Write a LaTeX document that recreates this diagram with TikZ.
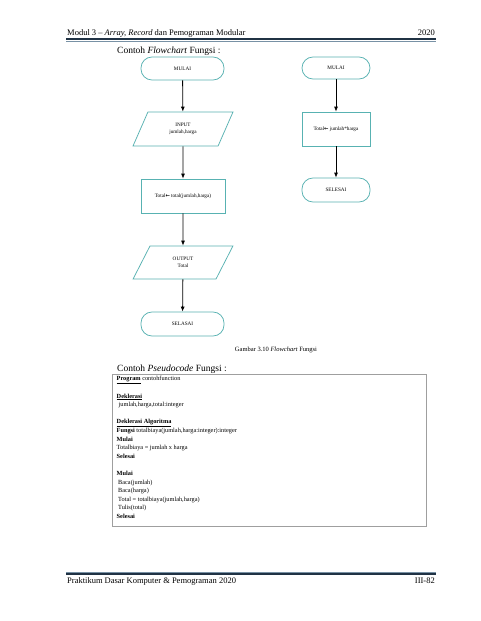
\documentclass[tikz,border=0pt]{standalone}
\usepackage{fontspec}
\setmainfont{Liberation Serif}
\newfontfamily\dejavu{DejaVu Sans}
\usetikzlibrary{shapes.geometric,arrows.meta}
\definecolor{tealb}{RGB}{88,178,178}
\definecolor{hdr}{RGB}{32,50,68}
\definecolor{hdrl}{RGB}{120,145,165}
\newcommand{\larr}{{\dejavu\bfseries ←}}
\begin{document}
\begin{tikzpicture}[x=1pt,y=-1pt,
  term/.style={draw=tealb,line width=0.75pt,rounded corners=11pt,minimum width=83pt,minimum height=23pt,inner sep=0pt,font=\fontsize{5.2}{6}\selectfont},
  proc/.style={draw=tealb,line width=0.75pt,minimum width=84pt,minimum height=34pt,inner sep=0pt,font=\fontsize{5.2}{6.4}\selectfont,align=center},
  io/.style={draw=tealb,line width=0.75pt,trapezium,trapezium left angle=63.4,trapezium right angle=116.6,trapezium stretches=true,minimum width=100pt,minimum height=34pt,inner sep=0pt,font=\fontsize{5.2}{7}\selectfont,align=center},
  flow/.style={-{Latex[length=5pt,width=4pt]},line width=0.8pt,black},
  txt/.style={inner sep=0pt}
]
\useasboundingbox (0,0) rectangle (480,621);
\fill[white] (0,0) rectangle (480,621);

% header
\node[txt,anchor=base west,font=\fontsize{8.5}{10}\selectfont] (hl) at (67,35) {Modul 3 -- \textit{Array, Record} dan Pemograman Modular};
\node[txt,anchor=base east,font=\fontsize{8.5}{10}\selectfont] (hr) at (435,35) {2020};
\draw[hdr,line width=1.8pt] (66,39.3) -- (436,39.3);
\draw[hdrl,line width=0.5pt] (66,41.2) -- (436,41.2);

\node[txt,anchor=base west,font=\fontsize{9.5}{11}\selectfont] (t1) at (117,53) {Contoh \textit{Flowchart} Fungsi :};

% left flowchart
\node[term] (m1) at (182.5,68.5) {MULAI};
\node[io] (in) at (183,129) {INPUT\\jumlah,harga};
\node[proc] (p1) at (183,196) {Total\larr{} total(jumlah,harga)};
\node[io,minimum height=33pt] (out) at (183,262.5) {OUTPUT\\Total};
\node[term,minimum height=24pt] (s1) at (182.5,324) {SELASAI};
\draw[flow] (m1) -- (in);
\draw[flow] (in) -- (p1);
\draw[flow] (p1) -- (out);
\draw[flow] (out) -- (s1);

% right flowchart
\node[term,minimum width=68pt,minimum height=22pt] (m2) at (336,68) {MULAI};
\node[proc,minimum width=68pt] (p2) at (336,129) {Total\larr{} jumlah*harga};
\node[term,minimum width=68pt,minimum height=24pt] (s2) at (336,190) {SELESAI};
\draw[flow] (m2) -- (p2);
\draw[flow] (p2) -- (s2);

\node[txt,anchor=base,font=\fontsize{6.5}{8}\selectfont] (cap) at (276,351) {Gambar 3.10 \textit{Flowchart} Fungsi};

% pseudocode
\node[txt,anchor=base west,font=\fontsize{9.5}{11}\selectfont] (t2) at (117,371) {Contoh \textit{Pseudocode} Fungsi :};
\draw[gray!75,line width=0.7pt] (112,374) rectangle (426,526);
\node[txt,anchor=north west,align=left,font=\fontsize{6.3}{8.6}\selectfont] (code) at (116.5,376.2) {%
\underline{\textbf{Program}} contohfunction\\
\mbox{}\\
\underline{\textbf{Deklerasi}}\\
\hspace*{2pt}jumlah,harga,total:integer\\
\mbox{}\\
\underline{\textbf{Deklerasi Algoritma}}\\
\textbf{Fungsi} totalbiaya(jumlah,harga:integer):integer\\
\textbf{Mulai}\\
Totalbiaya = jumlah x harga\\
\textbf{Selesai}\\
\mbox{}\\
\textbf{Mulai}\\
\hspace*{1.5pt}Baca(jumlah)\\
\hspace*{1.5pt}Baca(harga)\\
\hspace*{1.5pt}Total = totalbiaya(jumlah,harga)\\
\hspace*{1.5pt}Tulis(total)\\
\textbf{Selesai}};

% footer
\draw[hdrl,line width=0.5pt] (66,572.2) -- (436,572.2);
\draw[hdr,line width=1.8pt] (66,574) -- (436,574);
\node[txt,anchor=base west,font=\fontsize{8.5}{10}\selectfont] (fl) at (67,583) {Praktikum Dasar Komputer \& Pemograman 2020};
\node[txt,anchor=base east,font=\fontsize{8.5}{10}\selectfont] (fr) at (435,583) {III-82};
\end{tikzpicture}
\end{document}
